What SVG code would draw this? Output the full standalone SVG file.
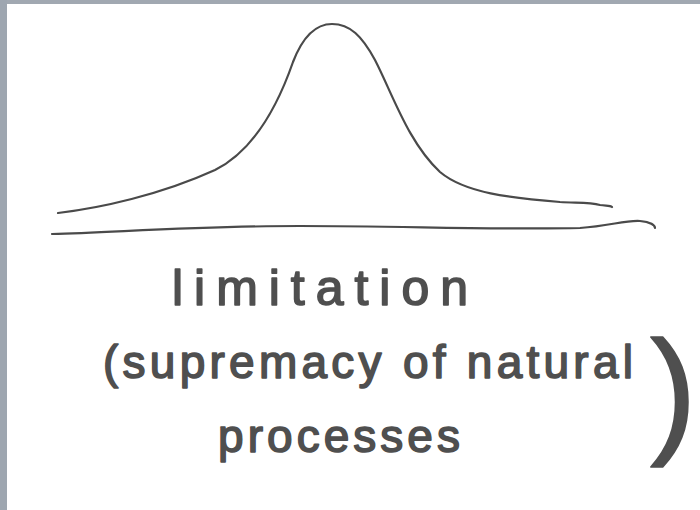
<svg xmlns="http://www.w3.org/2000/svg" width="700" height="510" viewBox="0 0 700 510">
<style>
.ink{fill:none;stroke:#4a4a4a;stroke-width:2.2;stroke-linecap:round;stroke-linejoin:round}
.hand{font-family:"Liberation Sans","DejaVu Sans",sans-serif;fill:#4f4f4f;stroke:#4f4f4f;stroke-width:1.6;stroke-linejoin:round}
</style>
<rect x="0" y="0" width="700" height="510" fill="#ffffff"/>
<rect x="0" y="0" width="700" height="4" fill="#a1a8b1"/>
<rect x="0" y="0" width="7" height="510" fill="#9ea6b0"/>
<g id="curve">
<path class="ink" d="M58,213 C100,208 160,195 215,170 C255,150 278,105 293,62 C303,36 316,24 332,24 C350,24 362,36 375,60 C393,95 408,142 440,172 C465,193 510,198 560,202 C578,203 590,202 600,205 C606,206 610,205 612,207"/>
</g>
<g id="axis">
<path class="ink" d="M52,234 C120,232 200,226 300,226 C400,226 500,230 580,228 C610,226 625,220 640,221 C650,222 655,225 655,228"/>
</g>
<g id="labels">
<text class="hand" x="172" y="305" font-size="50" textLength="296" lengthAdjust="spacing">limitation</text>
<text class="hand" x="103" y="378" font-size="46" textLength="530" lengthAdjust="spacing">(supremacy of natural</text>
<text class="hand" x="218" y="452" font-size="46" textLength="242" lengthAdjust="spacing">processes</text>
<text class="hand" x="650" y="438" font-size="140" stroke-width="3">)</text>
</g>
</svg>
